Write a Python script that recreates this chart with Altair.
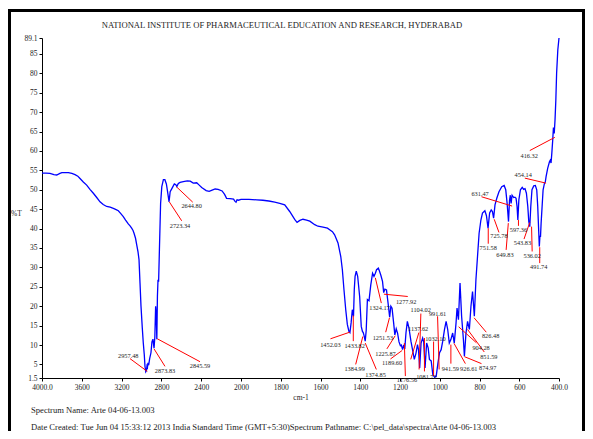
import altair as alt
import pandas as pd

# ---------------- data ----------------
wavenumber = [4000, 3960, 3920, 3880, 3852, 3820, 3800, 3760, 3735, 3700, 3668, 3640, 3618, 3585, 3551,
              3518, 3484, 3450, 3417, 3385, 3350, 3315, 3283, 3255, 3233, 3210, 3183, 3160, 3133, 3115,
              3099, 3085, 3075, 3060, 3048, 3035, 3025, 3015, 3005, 2992, 2982, 2972, 2965, 2957, 2950,
              2945, 2940, 2935, 2928, 2918, 2905, 2895, 2885, 2874, 2866, 2858, 2852, 2846, 2840, 2834,
              2828, 2820, 2808, 2796, 2780, 2765, 2750, 2738, 2723, 2712, 2695, 2670, 2655, 2645, 2630,
              2612, 2580, 2540, 2510, 2480, 2445, 2420, 2395, 2350, 2320, 2290, 2260, 2230, 2190, 2165,
              2145, 2110, 2075, 2060, 2050, 2040, 2025, 2000, 1960, 1920, 1890, 1860, 1830, 1805, 1780,
              1755, 1729, 1718, 1704, 1688, 1670, 1654, 1629, 1613, 1587, 1565, 1554, 1540, 1529, 1512,
              1498, 1490, 1482, 1473, 1465, 1457, 1452, 1446, 1440, 1434, 1430, 1426, 1420, 1413, 1403,
              1395, 1389, 1385, 1381, 1375, 1370, 1364, 1356, 1347, 1338, 1331, 1324, 1318, 1309, 1303,
              1296, 1288, 1282, 1276, 1268, 1260, 1252, 1246, 1240, 1232, 1226, 1219, 1212, 1205, 1198,
              1193, 1187, 1181, 1176, 1170, 1163, 1155, 1145, 1137, 1128, 1120, 1112, 1107, 1101, 1094,
              1086, 1081, 1074, 1066, 1058, 1052, 1043, 1035, 1026, 1018, 1009, 1001, 993, 985, 976,
              968, 960, 952, 944, 935, 927, 918, 913, 906, 898, 890, 881, 876, 868, 860,
              851, 843, 835, 826, 818, 810, 802, 793, 785, 773, 765, 757, 749, 741, 735,
              729, 722, 713, 702, 688, 676, 668, 661, 654, 649, 645, 641, 636, 628, 622,
              616, 611, 607, 602, 594, 585, 578, 571, 564, 557, 552, 547, 542, 536, 527,
              519, 512, 507, 503, 499, 496, 493, 490, 485, 480, 473, 469, 465, 457, 448,
              444, 440, 436, 432, 428, 424, 420, 416, 412, 406, 400]

transmittance = [54.3, 54.3, 54.2, 53.9, 53.8, 54.2, 54.4, 54.4, 54.4, 54.2, 53.9, 53.5, 52.9, 52.0, 51.2,
                 50.1, 49.1, 48.0, 46.9, 46.2, 45.7, 45.5, 45.2, 44.9, 44.6, 43.9, 43.1, 42.2, 41.2, 40.7,
                 40.1, 39.5, 38.8, 37.5, 35.8, 34.0, 32.0, 26.0, 20.0, 14.4, 10.5, 7.5, 4.5, 3.1, 3.4,
                 4.6, 4.3, 5.4, 4.8, 6.5, 8.0, 10.8, 11.5, 9.2, 12.0, 20.0, 18.0, 11.5, 22.5, 26.8,
                 26.3, 34.5, 46.5, 50.8, 52.6, 52.6, 51.5, 49.5, 46.9, 49.5, 50.3, 51.5, 51.3, 50.8, 51.6,
                 51.9, 52.1, 52.3, 52.2, 51.7, 51.8, 51.2, 50.6, 49.8, 49.6, 49.9, 50.2, 50.1, 49.7, 48.8,
                 47.8, 47.7, 47.6, 47.0, 46.8, 47.4, 47.3, 47.5, 47.5, 47.4, 47.3, 47.1, 46.8, 46.5, 46.1,
                 44.4, 42.3, 41.6, 42.1, 42.4, 42.2, 41.9, 41.0, 40.6, 40.4, 40.1, 39.7, 39.2, 38.4, 36.3,
                 32.8, 29.4, 24.3, 19.1, 15.3, 13.5, 13.2, 15.7, 19.1, 17.4, 24.3, 27.7, 29.0, 27.7, 22.5,
                 14.8, 13.5, 13.2, 12.5, 11.0, 13.8, 21.7, 21.4, 25.5, 28.5, 27.7, 28.5, 29.4, 29.8, 29.0,
                 27.9, 26.4, 23.5, 24.4, 24.2, 20.8, 17.2, 20.0, 19.5, 15.7, 12.6, 14.2, 13.0, 10.8, 9.8,
                 10.0, 8.8, 10.0, 9.0, 13.1, 16.1, 14.4, 11.0, 8.8, 6.3, 7.8, 10.1, 8.8, 4.1, 10.5,
                 11.8, 10.9, 4.1, 10.5, 9.2, 6.3, 5.9, 2.4, 1.7, 1.9, 5.4, 8.0, 8.8, 11.0, 14.0,
                 16.1, 14.0, 10.5, 11.4, 13.1, 10.5, 15.7, 19.5, 16.5, 26.0, 17.4, 11.4, 7.1, 13.1, 16.1,
                 14.0, 20.0, 23.8, 17.4, 26.8, 32.8, 38.8, 42.2, 44.0, 44.6, 43.3, 40.1, 44.0, 44.8, 44.4,
                 42.7, 46.1, 47.8, 49.5, 50.8, 51.1, 50.0, 46.5, 41.8, 47.3, 48.6, 46.5, 48.6, 48.0, 48.1,
                 47.8, 45.7, 42.2, 47.4, 50.0, 50.6, 50.1, 50.3, 49.1, 45.7, 41.8, 40.5, 45.7, 50.0, 51.0,
                 51.1, 50.0, 45.7, 40.5, 35.4, 38.0, 38.0, 41.4, 45.7, 50.0, 51.7, 52.0, 53.4, 55.5, 57.2,
                 57.6, 56.9, 59.5, 62.5, 66.0, 64.5, 68.0, 73.0, 80.0, 86.0, 89.1]

peak_labels = ["2957.48", "2873.83", "2845.59", "2723.34", "2644.80", "1452.03", "1433.82", "1384.99",
               "1374.85", "1324.17", "1277.92", "1251.53", "1225.87", "1189.60", "1176.56", "1137.62",
               "1104.02", "1081.72", "1032.10", "991.61", "941.59", "926.61", "874.97", "904.28",
               "851.59", "826.48", "751.58", "725.78", "649.83", "631.47", "597.36", "543.83",
               "536.02", "491.74", "454.14", "416.32"]
# label anchor (wavenumber, %T)
label_wn = [3133, 2764, 2412, 2613, 2496, 1550, 1428, 1428, 1323, 1303, 1169, 1286, 1273, 1240, 1165, 1109,
            1096, 1067, 1022, 1011, 947, 854, 759, 792, 753, 744, 756, 702, 672, 797, 604, 584,
            535, 502, 580, 550]
label_t = [7.1, 3.25, 4.5, 40.7, 45.7, 10.1, 9.7, 3.7, 2.4, 19.5, 21.0, 11.8, 7.8, 5.4, 1.1, 14.0,
           18.9, 1.7, 11.6, 18.1, 3.7, 3.7, 4.2, 9.3, 6.8, 12.2, 35.0, 38.0, 33.2, 48.9, 39.7, 36.3,
           33.0, 30.0, 53.8, 58.8]
# leader lines (wavenumber, %T) -> (wavenumber, %T)
lead_wn1 = [3116, 2874, 2841, 2721, 2646, 1550, 1435, 1423, 1375, 1324, 1281, 1272, 1266, 1248, 1178, 1105,
            1095, 1077, 1031, 1011, 944, 928, 876, 905, 860, 827, 756, 726, 655, 790, 604, 547,
            538, 497, 572, 547]
lead_t1 = [6.5, 9.0, 11.6, 46.9, 50.7, 11.6, 17.6, 5.0, 10.5, 27.3, 23.1, 13.3, 9.0, 6.4, 10.5, 13.2,
           18.1, 11.8, 10.9, 17.4, 10.1, 10.4, 7.0, 14.7, 14.0, 17.0, 40.1, 42.4, 41.4, 48.2, 42.2, 41.6,
           40.5, 35.2, 53.0, 60.1]
lead_wn2 = [2942, 2764, 2412, 2596, 2485, 1453, 1435, 1387, 1319, 1294, 1161, 1253, 1224, 1189, 1173, 1146,
            1104, 1077, 1031, 1003, 944, 871, 790, 816, 776, 766, 756, 702, 666, 636, 604, 576,
            535, 497, 465, 421]
lead_t2 = [3.2, 4.5, 5.7, 42.0, 46.8, 13.3, 11.0, 12.2, 3.7, 20.8, 22.5, 17.0, 12.4, 8.6, 2.0, 6.3,
           3.7, 3.2, 2.0, 3.7, 5.2, 5.2, 5.2, 10.6, 8.2, 13.3, 36.1, 39.0, 34.5, 45.8, 40.7, 37.3,
           34.1, 31.1, 51.7, 63.5]

x_ticks = [4000, 3600, 3200, 2800, 2400, 2000, 1800, 1600, 1400, 1200, 1000, 800, 600, 400]
y_ticks = [1.5, 5, 10, 15, 20, 25, 30, 35, 40, 45, 50, 55, 60, 65, 70, 75, 80, 85, 89.1]

title_text = "NATIONAL INSTITUTE OF PHARMACEUTICAL EDUCATION AND RESEARCH, HYDERABAD"
footer_1 = "Spectrum Name: Arte 04-06-13.003"
footer_2 = ("Date Created: Tue Jun 04 15:33:12 2013 India Standard Time (GMT+5:30)"
            "Spectrum Pathname: C:\\pel_data\\spectra\\Arte 04-06-13.003")

# ---------------- chart ----------------
W, H = 517, 340
FONT = "Liberation Serif"
TXT = "#222222"

spec_df = pd.DataFrame({"wn": wavenumber, "T": transmittance})
lab_df = pd.DataFrame({"label": peak_labels, "lx": label_wn, "ly": label_t,
                       "x1": lead_wn1, "y1": lead_t1, "x2": lead_wn2, "y2": lead_t2})

xscale = alt.Scale(domain=[400, 2000, 4000], range=[W, 199, 0], nice=False, zero=False)
yscale = alt.Scale(domain=[1.5, 89.1], nice=False, zero=False)

xaxis = alt.Axis(values=x_ticks, grid=False, title="cm-1",
                 labelExpr="datum.value == 4000 ? '4000.0' : (datum.value == 400 ? '400.0' : '' + datum.value)",
                 labelFont=FONT, labelFontSize=7.5, labelColor=TXT, labelPadding=2,
                 labelOverlap=False, labelFlush=False,
                 tickSize=3, tickColor="black", domainColor="black", domainWidth=1,
                 titleFont=FONT, titleFontSize=7.5, titleFontWeight="normal", titleColor=TXT,
                 titleY=19, titleBaseline="middle")
yaxis = alt.Axis(values=y_ticks, grid=False, title="%T",
                 labelExpr="'' + datum.value",
                 labelFont=FONT, labelFontSize=7.5, labelColor=TXT, labelPadding=2,
                 labelOverlap=False, labelFlush=False,
                 tickSize=3, tickColor="black", domainColor="black", domainWidth=1,
                 titleFont=FONT, titleFontSize=7.5, titleFontWeight="normal", titleColor=TXT,
                 titleAngle=0, titleX=-26, titleY=175, titleAlign="center", titleBaseline="middle")

spectrum = alt.Chart(spec_df).mark_line(color="#0000ff", strokeWidth=1.3).encode(
    x=alt.X("wn:Q", scale=xscale, axis=xaxis),
    y=alt.Y("T:Q", scale=yscale, axis=yaxis),
)

leaders = alt.Chart(lab_df).mark_rule(color="#ff0000", strokeWidth=1).encode(
    x=alt.X("x1:Q", scale=xscale, axis=xaxis),
    y=alt.Y("y1:Q", scale=yscale, axis=yaxis),
    x2="x2:Q",
    y2="y2:Q",
)

labels = alt.Chart(lab_df).mark_text(font=FONT, fontSize=6.3, color=TXT,
                                     align="center", baseline="middle").encode(
    x=alt.X("lx:Q", scale=xscale, axis=xaxis),
    y=alt.Y("ly:Q", scale=yscale, axis=yaxis),
    text="label:N",
)

one = alt.Data(values=[{}])
frame = alt.Chart(one).mark_rect(fillOpacity=0, stroke="black", strokeWidth=3).encode(
    x=alt.value(-32.5), x2=alt.value(541.5), y=alt.value(-27.5), y2=alt.value(400))

title = alt.Chart(one).mark_text(font=FONT, fontSize=8.6, color=TXT, align="center",
                                 baseline="middle").encode(
    x=alt.value(240), y=alt.value(-13), text=alt.value(title_text))

foot1 = alt.Chart(one).mark_text(font=FONT, fontSize=8.6, color=TXT, align="left",
                                 baseline="middle").encode(
    x=alt.value(-11), y=alt.value(372), text=alt.value(footer_1))

foot2 = alt.Chart(one).mark_text(font=FONT, fontSize=8.6, color=TXT, align="left",
                                 baseline="middle").encode(
    x=alt.value(-11), y=alt.value(389), text=alt.value(footer_2))

chart = alt.layer(frame, spectrum, leaders, labels, title, foot1, foot2).properties(
    width=W, height=H,
    autosize=alt.AutoSizeParams(type="none"),
    padding={"left": 34, "top": 30, "right": 26, "bottom": 53},
    background="white",
).configure_view(stroke=None)

chart.save("out.html", embed_options={"renderer": "svg", "actions": False})
